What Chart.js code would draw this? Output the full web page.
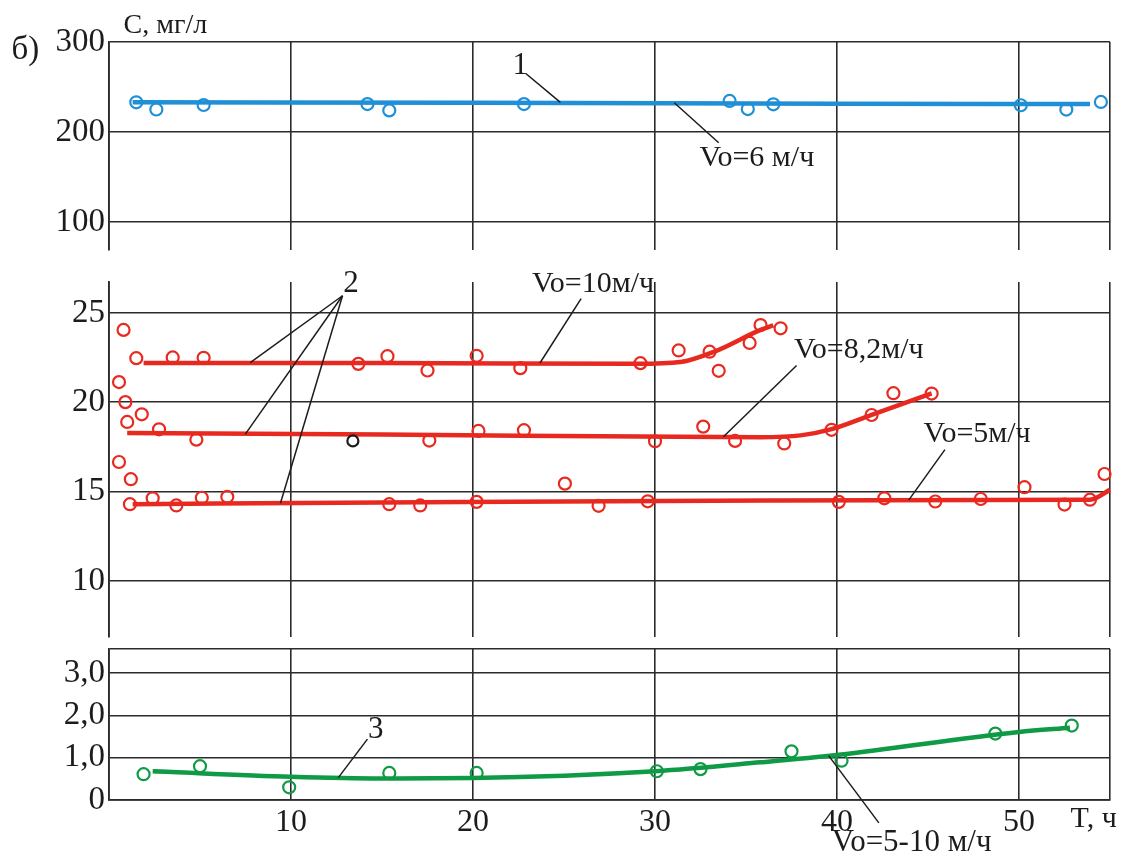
<!DOCTYPE html>
<html>
<head>
<meta charset="utf-8">
<title>С, мг/л — T, ч</title>
<script src="https://cdn.jsdelivr.net/npm/chart.js@4.4.1/dist/chart.umd.min.js"></script>
<style>
  body { margin: 0; background: #fff; }
  #wrap { position: relative; width: 1130px; height: 856px; }
  #wrap canvas { position: absolute; left: 0; top: 0; width: 1130px; height: 856px; }
</style>
</head>
<body>
<div id="wrap">
  <canvas id="chartTop" width="1130" height="856"></canvas>
  <canvas id="chartMid" width="1130" height="856"></canvas>
  <canvas id="chartBot" width="1130" height="856"></canvas>
</div>
<script>
// time axis, h
const xTicks = [0, 10, 20, 30, 40, 50, 55];
const xLabels = [10, 20, 30, 40, 50];

// panel 1 – curve 1, Vo = 6 m/h
const topTicks = [100, 200, 300];
const pts1T = [1.5, 2.6, 5.2, 14.2, 15.4, 22.8, 34.1, 35.1, 36.5, 50.1, 52.6, 54.5];
const pts1C = [233, 225, 230, 231, 224, 231, 234.5, 225.5, 230.8, 229.7, 224.9, 233.4];
const line1T = [1.3, 20, 40, 53.9];
const line1C = [233, 232.5, 231.5, 231];

// panel 2 – curves 2 (Vo = 10, 8.2, 5 m/h)
const midTicks = [10, 15, 20, 25];
const ptsAT = [0.7, 0.8, 1.5, 3.5, 5.2, 13.7, 15.3, 17.5, 20.2, 22.6, 29.2, 31.3, 33.0, 33.5, 35.2, 35.8, 36.9];
const ptsAC = [27.74, 24.05, 22.47, 22.51, 22.49, 22.15, 22.58, 21.78, 22.6, 21.91, 22.19, 22.9, 22.83, 21.76, 23.32, 24.32, 24.14];
const ptsBT = [0.55, 0.9, 1.8, 1.0, 2.75, 4.8, 17.6, 20.3, 22.8, 30.0, 32.65, 34.4, 37.1, 39.7, 41.9, 43.1, 45.2];
const ptsBC = [21.13, 20.01, 19.33, 18.9, 18.49, 17.91, 17.86, 18.4, 18.44, 17.82, 18.64, 17.84, 17.7, 18.46, 19.29, 20.51, 20.49];
const ptsCT = [0.55, 1.2, 1.15, 2.4, 3.7, 5.1, 6.5, 15.4, 17.1, 20.2, 25.05, 26.9, 29.6, 40.1, 42.6, 45.4, 47.9, 50.3, 52.5, 53.9, 54.7];
const ptsCC = [16.66, 15.7, 14.3, 14.63, 14.23, 14.66, 14.71, 14.3, 14.23, 14.43, 15.45, 14.21, 14.46, 14.43, 14.63, 14.45, 14.59, 15.25, 14.28, 14.55, 15.99];
const ptsBlackT = [13.4];
const ptsBlackC = [17.84];
const lineAT = [1.9, 15, 29, 31.4, 33.3, 35.8, 36.5];
const lineAC = [22.2, 22.2, 22.15, 22.25, 22.85, 24.05, 24.3];
const lineBT = [1.0, 15, 35.8, 38, 39.7, 41.9, 45.2];
const lineBC = [18.28, 18.2, 18.05, 18.15, 18.5, 19.3, 20.5];
const lineCT = [1.3, 15, 36, 53.9, 55];
const lineCC = [14.3, 14.4, 14.5, 14.55, 15.1];

// panel 3 – curve 3, Vo = 5-10 m/h
const botTicks = [0, 1, 2, 3];
const pts3T = [1.9, 5.0, 9.9, 15.4, 20.2, 30.1, 32.5, 37.5, 40.25, 48.7, 52.9];
const pts3C = [0.61, 0.8, 0.3, 0.64, 0.64, 0.68, 0.73, 1.15, 0.93, 1.57, 1.76];
const line3T = [2.4, 10, 15, 20, 30, 35.8, 40.1, 50, 52.8];
const line3C = [0.68, 0.55, 0.51, 0.52, 0.68, 0.89, 1.07, 1.61, 1.71];

const BLUE = '#1f8fd6';
const RED = '#e8291f';
const GREEN = '#0f9a45';
const INK = '#1c1c1c';
const GRID = '#2b2b2b';
const SERIF = "'Liberation Serif', 'DejaVu Serif', serif";

function pts(T, C) {
    return T.map((t, i) => ({ x: t, y: C[i] }));
}

function markers(T, C, color, r) {
    return {
        data: pts(T, C),
        showLine: false,
        pointRadius: r || 6,
        pointHoverRadius: r || 6,
        pointBorderWidth: 2.2,
        pointBorderColor: color,
        pointBackgroundColor: 'rgba(0,0,0,0)',
        clip: false,
        order: 0
    };
}

function curve(T, C, color) {
    return {
        data: pts(T, C),
        showLine: true,
        borderColor: color,
        borderWidth: 4.5,
        pointRadius: 0,
        cubicInterpolationMode: 'monotone',
        fill: false,
        clip: false,
        order: 1
    };
}

// labels and leader lines, placed in data units of each panel
const notesPlugin = {
    id: 'notes',
    afterDatasetsDraw(chart, args, opts) {
        const ctx = chart.ctx;
        const x = chart.scales.x;
        const y = chart.scales.y;
        ctx.save();
        ctx.strokeStyle = INK;
        ctx.lineWidth = 1.5;
        (opts.leaders || []).forEach((l) => {
            ctx.beginPath();
            ctx.moveTo(x.getPixelForValue(l[0]), y.getPixelForValue(l[1]));
            ctx.lineTo(x.getPixelForValue(l[2]), y.getPixelForValue(l[3]));
            ctx.stroke();
        });
        ctx.fillStyle = INK;
        ctx.textAlign = 'center';
        ctx.textBaseline = 'middle';
        (opts.texts || []).forEach((t) => {
            ctx.font = (t.size || 31) + 'px ' + SERIF;
            ctx.fillText(t.text, x.getPixelForValue(t.x), y.getPixelForValue(t.y));
        });
        ctx.restore();
    }
};

function makeChart(id, p) {
    const ctx = document.getElementById(id);
    return new Chart(ctx, {
        type: 'scatter',
        data: { datasets: p.datasets },
        plugins: [notesPlugin],
        options: {
            responsive: false,
            animation: false,
            events: [],
            layout: { padding: { top: p.top, bottom: p.bottom, left: 0, right: 20 } },
            plugins: {
                legend: { display: false },
                tooltip: { enabled: false },
                notes: p.notes
            },
            scales: {
                x: {
                    type: 'linear',
                    min: 0,
                    max: 55,
                    afterBuildTicks: (ax) => { ax.ticks = xTicks.map((v) => ({ value: v })); },
                    afterFit: (ax) => { ax.height = p.xHeight; },
                    ticks: {
                        display: p.xLabels,
                        autoSkip: false,
                        maxRotation: 0,
                        padding: 3,
                        color: INK,
                        font: { family: SERIF, size: 32 },
                        callback: (v) => (xLabels.includes(v) ? String(v) : '')
                    },
                    grid: { color: GRID, lineWidth: 1.6, drawTicks: false },
                    border: { display: p.xBorder, color: GRID, width: 1.8 }
                },
                y: {
                    type: 'linear',
                    min: p.yMin,
                    max: p.yMax,
                    afterBuildTicks: (ax) => { ax.ticks = p.yTicks.map((v) => ({ value: v })); },
                    afterFit: (ax) => { ax.width = 109; },
                    ticks: {
                        autoSkip: false,
                        padding: 4,
                        color: INK,
                        font: { family: SERIF, size: 33 },
                        callback: p.yFormat
                    },
                    grid: { color: GRID, lineWidth: 1.6, drawTicks: false },
                    border: { color: GRID, width: 1.8 }
                }
            }
        }
    });
}

window.onload = function () {
    makeChart('chartTop', {
        top: 42, bottom: 606, xHeight: 0, xLabels: false, xBorder: false,
        yMin: 68.9, yMax: 300, yTicks: topTicks,
        yFormat: (v) => String(v),
        datasets: [
            markers(pts1T, pts1C, BLUE, 6),
            curve(line1T, line1C, BLUE)
        ],
        notes: {
            texts: [
                { text: 'б)', x: -4.6, y: 291, size: 33 },
                { text: 'С, мг/л', x: 3.1, y: 318.5, size: 28 },
                { text: '1', x: 22.6, y: 274 },
                { text: 'Vo=6 м/ч', x: 35.6, y: 171, size: 30 }
            ],
            leaders: [
                [22.9, 265, 24.8, 233],
                [31.06, 232.5, 33.5, 188]
            ]
        }
    });

    makeChart('chartMid', {
        top: 282, bottom: 219, xHeight: 0, xLabels: false, xBorder: false,
        yMin: 6.87, yMax: 26.73, yTicks: midTicks,
        yFormat: (v) => String(v),
        datasets: [
            markers(ptsAT, ptsAC, RED, 6),
            markers(ptsBT, ptsBC, RED, 6),
            markers(ptsCT, ptsCC, RED, 6),
            markers(ptsBlackT, ptsBlackC, INK, 5.5),
            curve(lineAT, lineAC, RED),
            curve(lineBT, lineBC, RED),
            curve(lineCT, lineCC, RED)
        ],
        notes: {
            texts: [
                { text: '2', x: 13.3, y: 26.6 },
                { text: 'Vo=10м/ч', x: 26.6, y: 26.6, size: 30 },
                { text: 'Vo=8,2м/ч', x: 41.2, y: 22.9, size: 30 },
                { text: 'Vo=5м/ч', x: 47.7, y: 18.2, size: 30 }
            ],
            leaders: [
                [12.83, 25.96, 7.76, 22.22],
                [12.83, 25.96, 7.49, 18.22],
                [12.83, 25.96, 9.42, 14.35],
                [25.94, 25.8, 23.68, 22.2],
                [37.78, 22.06, 33.76, 18.07],
                [45.93, 17.35, 43.94, 14.53]
            ]
        }
    });

    makeChart('chartBot', {
        top: 649, bottom: 0, xHeight: 56, xLabels: true, xBorder: true,
        yMin: 0, yMax: 3.57, yTicks: botTicks.concat([3.57]),
        yFormat: (v) => (botTicks.includes(v) ? (v === 0 ? '0' : v.toFixed(1).replace('.', ',')) : ''),
        datasets: [
            markers(pts3T, pts3C, GREEN, 6),
            curve(line3T, line3C, GREEN)
        ],
        notes: {
            texts: [
                { text: '3', x: 14.65, y: 1.65 },
                { text: 'T, ч', x: 54.1, y: -0.45, size: 30 },
                { text: 'Vo=5-10 м/ч', x: 44.1, y: -1.02, size: 31 }
            ],
            leaders: [
                [14.2, 1.44, 12.6, 0.53],
                [39.54, 1.05, 42.3, -0.54]
            ]
        }
    });
};
</script>
</body>
</html>
